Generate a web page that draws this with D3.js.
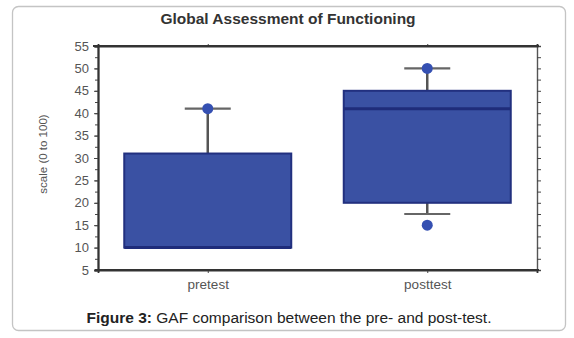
<html>
<head>
<meta charset="utf-8">
<script src="https://cdn.jsdelivr.net/npm/d3@7"></script>
<style>
  body { margin: 0; background: #fff; }
  text { font-family: "Liberation Sans", Arial, sans-serif; }
</style>
</head>
<body>
<div id="chart"></div>
<script>
    // values
    var categories = ["pretest", "posttest"];
    var whiskerLow = [10, 17.5];
    var q1 = [10, 20];
    var median = [10, 41];
    var q3 = [31, 45];
    var whiskerHigh = [41, 50];
    var dotCat = ["pretest", "posttest", "posttest"];
    var dotVal = [41, 50, 15];
    var yTicks = [5, 10, 15, 20, 25, 30, 35, 40, 45, 50, 55];

    var W = 574, H = 338;
    var margin = {top: 46, left: 98, right: 37, bottom: 68};
    var width = W - margin.left - margin.right,
        height = H - margin.top - margin.bottom;

    var svg = d3.select("#chart").append("svg")
        .attr("width", W).attr("height", H);

    // outer frame
    svg.append("rect")
        .attr("x", 12.5).attr("y", 6.5)
        .attr("width", 553).attr("height", 324)
        .attr("rx", 6)
        .attr("fill", "none").attr("stroke", "#c4c4c4").attr("stroke-width", 1.3);

    svg.append("text")
        .attr("x", 288).attr("y", 24)
        .attr("text-anchor", "middle")
        .attr("font-size", "15.5px").attr("font-weight", "bold").attr("fill", "#333")
        .text("Global Assessment of Functioning");

    var g = svg.append("g")
        .attr("transform", "translate(" + margin.left + "," + margin.top + ")");

    var x = d3.scalePoint().domain(categories).range([0, width]).padding(0.5);
    var y = d3.scaleLinear().domain([5, 55]).range([height, 0]);
    var boxW = 167, capW = 46;

    var minor = d3.range(5, 55.01, 2.5);

    // left axis
    var left = g.append("g")
        .call(d3.axisLeft(y).tickValues(yTicks).tickSize(4).tickPadding(5));
    left.selectAll("text").attr("font-size", "13px").attr("fill", "#555");
    left.append("g").call(d3.axisLeft(y).tickValues(minor).tickSize(3).tickFormat(""));

    // right axis
    var right = g.append("g").attr("transform", "translate(" + width + ",0)");
    right.call(d3.axisRight(y).tickValues(minor).tickSize(4).tickFormat(""));

    // top axis
    g.append("g")
        .call(d3.axisTop(x).tickSize(2).tickFormat(""));

    // bottom axis
    var bottom = g.append("g")
        .attr("transform", "translate(0," + height + ")")
        .call(d3.axisBottom(x).tickSize(3).tickPadding(6));
    bottom.selectAll("text").attr("font-size", "13.5px").attr("fill", "#555");

    g.selectAll(".domain").attr("stroke", "#333").attr("stroke-width", 1.8);
    right.select(".domain").attr("stroke", "#555").attr("stroke-width", 1.4);
    g.selectAll(".tick line").attr("stroke", "#444");

    // extend top/bottom lines a bit to the left
    g.append("line").attr("x1", -5).attr("x2", width + 2).attr("y1", 0).attr("y2", 0)
        .attr("stroke", "#333").attr("stroke-width", 1.8);
    g.append("line").attr("x1", -3).attr("x2", width + 2).attr("y1", height).attr("y2", height)
        .attr("stroke", "#333").attr("stroke-width", 1.8);

    var boxes = g.selectAll(".box").data(categories).enter().append("g");

    // whiskers
    boxes.append("line")
        .attr("x1", function (d) { return x(d); })
        .attr("x2", function (d) { return x(d); })
        .attr("y1", function (d, i) { return y(whiskerLow[i]); })
        .attr("y2", function (d, i) { return y(whiskerHigh[i]); })
        .attr("stroke", "#555").attr("stroke-width", 2.5);
    boxes.append("line")
        .attr("x1", function (d) { return x(d) - capW / 2; })
        .attr("x2", function (d) { return x(d) + capW / 2; })
        .attr("y1", function (d, i) { return y(whiskerHigh[i]); })
        .attr("y2", function (d, i) { return y(whiskerHigh[i]); })
        .attr("stroke", "#666").attr("stroke-width", 2.2);
    boxes.filter(function (d, i) { return whiskerLow[i] < q1[i]; })
        .append("line")
        .attr("x1", function (d) { return x(d) - capW / 2; })
        .attr("x2", function (d) { return x(d) + capW / 2; })
        .attr("y1", function (d) { var i = categories.indexOf(d); return y(whiskerLow[i]); })
        .attr("y2", function (d) { var i = categories.indexOf(d); return y(whiskerLow[i]); })
        .attr("stroke", "#666").attr("stroke-width", 2.2);

    // box
    boxes.append("rect")
        .attr("x", function (d) { return x(d) - boxW / 2; })
        .attr("y", function (d, i) { return y(q3[i]); })
        .attr("width", boxW)
        .attr("height", function (d, i) { return y(q1[i]) - y(q3[i]); })
        .attr("fill", "#3a51a3").attr("stroke", "#22307f").attr("stroke-width", 2);

    // median
    boxes.append("line")
        .attr("x1", function (d) { return x(d) - boxW / 2; })
        .attr("x2", function (d) { return x(d) + boxW / 2; })
        .attr("y1", function (d, i) { return y(median[i]); })
        .attr("y2", function (d, i) { return y(median[i]); })
        .attr("stroke", "#1f2c7a").attr("stroke-width", 3);

    // points
    g.selectAll(".dot").data(dotVal).enter().append("circle")
        .attr("cx", function (d, i) { return x(dotCat[i]); })
        .attr("cy", function (d) { return y(d); })
        .attr("r", 5.5)
        .attr("fill", "#3550b2");

    // y label
    svg.append("text")
        .attr("transform", "translate(47," + (margin.top + height / 2 - 4) + ") rotate(-90)")
        .attr("text-anchor", "middle")
        .attr("font-size", "11.5px").attr("fill", "#555")
        .text("scale (0 to 100)");

    // caption
    var cap = svg.append("text")
        .attr("x", 289).attr("y", 323)
        .attr("text-anchor", "middle")
        .attr("font-size", "15.5px").attr("fill", "#222");
    cap.append("tspan").attr("font-weight", "bold").text("Figure 3:");
    cap.append("tspan").text(" GAF comparison between the pre- and post-test.");
</script>
</body>
</html>
